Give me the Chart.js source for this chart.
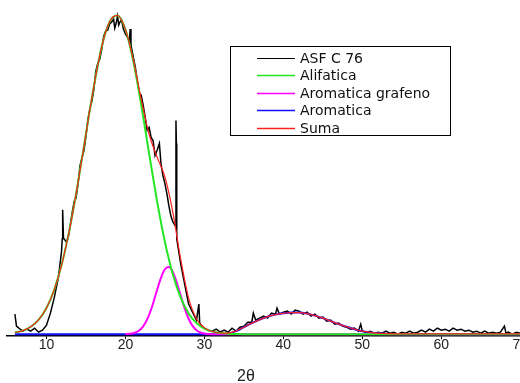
<!DOCTYPE html>
<html>
<head>
<meta charset="utf-8">
<script src="https://cdn.jsdelivr.net/npm/chart.js@4"></script>
<style>
  html, body { margin: 0; padding: 0; background: #fff; overflow: hidden; }
  #wrap { width: 526px; height: 383px; }
</style>
</head>
<body>
<div id="wrap"><canvas id="xrdChart"></canvas></div>
<script>
// fitted components, sampled every 1 degree 2theta
const fitAngles = [
  6, 7, 8, 9, 10, 11, 12, 13, 14, 15, 16, 17, 18, 19, 20, 21, 22, 23, 24, 25,
  26, 27, 28, 29, 30, 31, 32, 33, 34, 35, 36, 37, 38, 39, 40, 41, 42, 43, 44, 45,
  46, 47, 48, 49, 50, 51, 52, 53, 54, 55, 56, 57, 58, 59, 60, 61, 62, 63, 64, 65,
  66, 67, 68, 69, 70
];
const alifatica = [
  1.6, 3.6, 7.4, 14.3, 26.1, 44.7, 71.6, 107.4, 151.2, 199.6, 246.9, 286.5, 311.5, 317.6, 303.6, 272.0, 228.5, 180.0, 132.9, 92.0,
  59.7, 36.4, 20.7, 11.1, 5.6, 2.6, 1.2, 0.5, 0.2, 0, 0, 0, 0, 0, 0, 0, 0, 0, 0, 0,
  0, 0, 0, 0, 0, 0, 0, 0, 0, 0, 0, 0, 0, 0, 0, 0, 0, 0, 0, 0,
  0, 0, 0, 0, 0
];
const aromatica = [
  0, 0, 0, 0, 0, 0, 0, 0, 0, 0, 0, 0, 0, 0, 0, 0, 0, 0, 0, 0,
  0, 0, 0, 0, 0, 0, 0, 0.5, 3, 7, 11, 14.5, 17.5, 19.5, 20.8, 21.5, 21.5, 20.5, 18.5, 16,
  13, 10, 7.5, 5, 3, 1.8, 1, 0.5, 0.2, 0, 0, 0, 0, 0, 0, 0, 0, 0, 0, 0,
  0, 0, 0, 0, 0
];
const suma = [
  1.6, 3.6, 7.4, 14.3, 26.1, 44.7, 71.6, 107.4, 151.2, 199.6, 246.9, 286.5, 311.5, 317.6, 303.7, 273.0, 233.9, 199.2, 176.7, 156.7,
  121.7, 74.8, 36.1, 15.1, 6.3, 2.7, 1.2, 1.0, 3.2, 7, 11, 14.5, 17.5, 19.5, 20.8, 21.5, 21.5, 20.5, 18.5, 16,
  13, 10, 7.5, 5, 3, 1.8, 1, 0.5, 0.4, 0.4, 0.4, 0.4, 0.4, 0.4, 0.4, 0.4, 0.4, 0.4, 0.4, 0.4,
  0.4, 0.4, 0.4, 0.4, 0.4
];

// graphene band is narrow, so it gets its own finer sampling
const grafenoAngles = [
  20, 20.5, 21, 21.5, 22, 22.5, 23, 23.5, 24, 24.5,
  25, 25.5, 26, 26.5, 27, 27.5, 28, 28.5, 29, 29.5,
  30, 30.5, 31, 70
];
const aromaticaGrafeno = [
  0.1, 0.4, 1.0, 2.5, 5.4, 10.8, 19.2, 30.6, 43.8, 56.2,
  64.7, 66.9, 62.0, 51.5, 38.4, 25.7, 15.4, 8.3, 4.0, 1.7,
  0.7, 0.2, 0, 0
];

// measured pattern ASF C 76
const scanAngles = [
  6, 6.2, 6.5, 7, 7.5, 8, 8.5, 9, 9.5, 10,
  10.5, 11, 11.5, 11.9, 12, 12.05, 12.15, 12.5, 12.75, 13,
  13.25, 13.5, 13.75, 14, 14.25, 14.5, 14.75, 15, 15.25, 15.5,
  15.75, 16, 16.25, 16.5, 16.75, 17, 17.25, 17.5, 17.75, 18,
  18.25, 18.5, 18.65, 18.8, 19, 19.15, 19.3, 19.5, 19.75, 20,
  20.25, 20.5, 20.6, 20.7, 21, 21.25, 21.5, 21.75, 22, 22.25,
  22.5, 22.75, 23, 23.25, 23.5, 23.75, 24, 24.3, 24.5, 24.75,
  25, 25.25, 25.5, 25.75, 26, 26.3, 26.4, 26.45, 26.5, 27,
  27.5, 28, 28.5, 29, 29.3, 29.4, 29.5, 30, 30.5, 31,
  31.5, 32, 32.5, 33, 33.5, 34, 34.5, 35, 35.5, 36,
  36.2, 36.5, 37, 37.5, 38, 38.5, 39, 39.2, 39.5, 40,
  40.5, 41, 41.5, 42, 42.5, 43, 43.5, 44, 44.5, 45,
  45.5, 46, 46.5, 47, 47.5, 48, 48.5, 49, 49.5, 49.8,
  50, 50.5, 51, 51.5, 52, 52.5, 53, 53.5, 54, 54.5,
  55, 55.5, 56, 56.5, 57, 57.5, 58, 58.5, 59, 59.5,
  60, 60.5, 61, 61.5, 62, 62.5, 63, 63.5, 64, 64.5,
  65, 65.5, 66, 66.5, 67, 67.5, 68, 68.2, 68.5, 69,
  69.5, 70
];
const scanCounts = [
  20, 8, 6, 3, 5, 3, 6, 2, 4, 9,
  21, 37, 56, 82, 95, 124, 96, 92, 96, 108,
  121, 132, 136, 150, 168, 176, 183, 197, 214, 225,
  232, 244, 262, 270, 274, 284, 297, 302, 303, 309,
  311, 314, 305, 309, 317, 308, 311, 313, 304, 299,
  296, 292, 304, 288, 276, 266, 253, 241, 238, 228,
  216, 203, 206, 196, 193, 178, 183, 190, 170, 158,
  150, 140, 128, 118, 112, 108, 213, 190, 95, 70,
  50, 30, 22, 14, 30, 12, 10, 6, 4, 3,
  5, 2, 4, 2, 6, 3, 7, 8, 12, 12,
  21, 14, 16, 18, 16, 21, 20, 26, 20, 22,
  23, 20, 24, 23, 20, 22, 18, 20, 16, 17,
  13, 14, 10, 11, 8, 7, 5, 6, 3, 10,
  3, 2, 3, 1, 2, 1, 3, 1, 2, 0,
  2, 1, 3, 1, 2, 4, 2, 5, 3, 6,
  4, 5, 3, 6, 4, 5, 3, 4, 2, 3,
  1, 3, 1, 2, 1, 2, 8, 1, 2, 0,
  2, 1
];

const tickValues = [10, 20, 30, 40, 50, 60, 70];
const seriesNames = ['ASF C 76', 'Alifatica', 'Aromatica grafeno', 'Aromatica', 'Suma'];
const axisTitle = '2θ';

const FONT = '"Liberation Sans", Arial, sans-serif';
const LEGEND_FONT = '"DejaVu Sans", Verdana, sans-serif';

function pairs(xs, ys) {
  return xs.map((x, i) => ({ x: x, y: ys[i] }));
}

// boxed legend + axis title drawn on the canvas
const boxLegend = {
  id: 'boxLegend',
  afterDraw(chart) {
    const ctx = chart.ctx;
    ctx.save();
    ctx.fillStyle = '#fff';
    ctx.fillRect(230.5, 46.5, 220, 89);
    ctx.strokeStyle = '#000';
    ctx.lineWidth = 1;
    ctx.strokeRect(230.5, 46.5, 220, 89);
    ctx.font = '14px ' + LEGEND_FONT;
    ctx.textBaseline = 'middle';
    ctx.textAlign = 'left';
    chart.data.datasets.forEach((ds, i) => {
      const y = Math.round(58 + i * 17.4) + 0.5;
      ctx.strokeStyle = ds.borderColor;
      ctx.lineWidth = i === 0 ? 1 : 1.5;
      ctx.beginPath();
      ctx.moveTo(257, y);
      ctx.lineTo(295, y);
      ctx.stroke();
      ctx.fillStyle = '#111';
      ctx.fillText(ds.label, 300, y + 1);
    });
    ctx.font = '16px ' + FONT;
    ctx.textAlign = 'center';
    ctx.fillStyle = '#222';
    ctx.fillText(axisTitle, 246, 377);
    ctx.restore();
  }
};

const ctx = document.getElementById('xrdChart').getContext('2d');
const xrdChart = new Chart(ctx, {
  type: 'line',
  data: {
    datasets: [
      {
        label: seriesNames[0],
        data: pairs(scanAngles, scanCounts),
        borderColor: '#000000',
        borderWidth: 1.5,
        tension: 0,
        order: 5
      },
      {
        label: seriesNames[1],
        data: pairs(fitAngles, alifatica),
        borderColor: '#22e622',
        borderWidth: 2,
        cubicInterpolationMode: 'monotone',
        order: 2
      },
      {
        label: seriesNames[2],
        data: pairs(grafenoAngles, aromaticaGrafeno),
        borderColor: '#ff00ff',
        borderWidth: 2,
        cubicInterpolationMode: 'monotone',
        order: 3
      },
      {
        label: seriesNames[3],
        data: pairs(fitAngles, aromatica),
        borderColor: '#1010ff',
        borderWidth: 2,
        cubicInterpolationMode: 'monotone',
        order: 4
      },
      {
        label: seriesNames[4],
        data: pairs(fitAngles, suma),
        borderColor: '#ff2020',
        borderWidth: 1.2,
        cubicInterpolationMode: 'monotone',
        order: 1
      }
    ]
  },
  options: {
    responsive: true,
    maintainAspectRatio: false,
    animation: false,
    elements: { point: { radius: 0 } },
    layout: { padding: { left: 7, top: 0, right: 0, bottom: 31 } },
    plugins: {
      legend: { display: false },
      tooltip: { enabled: false }
    },
    scales: {
      x: {
        type: 'linear',
        min: 5,
        max: 70,
        afterBuildTicks: (axis) => {
          axis.ticks = tickValues.map(v => ({ value: v }));
        },
        border: { display: true, color: '#000', width: 1.5 },
        grid: { drawOnChartArea: false, drawTicks: true, tickLength: 3, color: '#000' },
        ticks: {
          padding: -2,
          maxRotation: 0,
          color: '#222',
          font: { family: FONT, size: 14 }
        }
      },
      y: {
        display: false,
        min: -2,
        max: 333
      }
    }
  },
  plugins: [boxLegend]
});
</script>
</body>
</html>
